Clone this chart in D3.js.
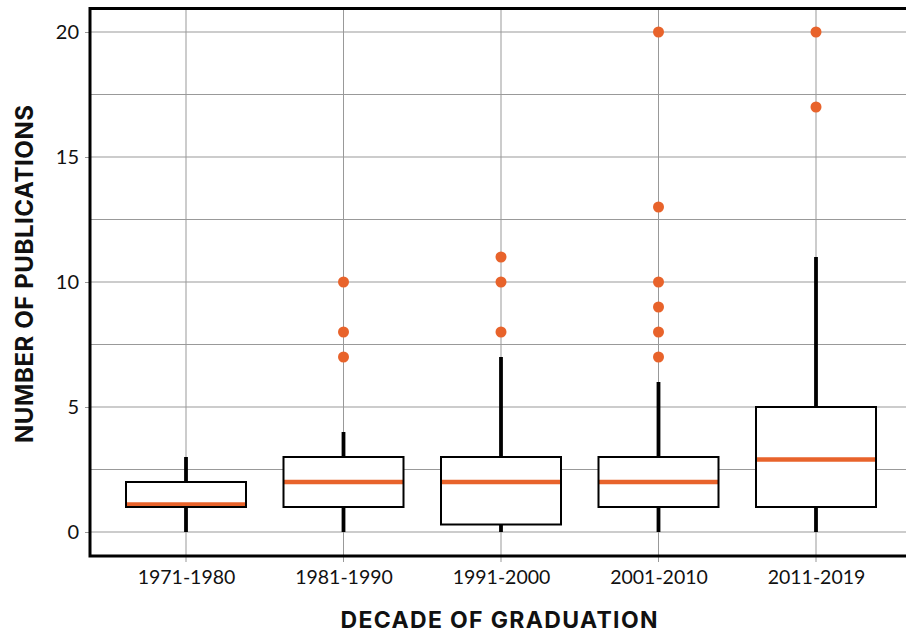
<!DOCTYPE html>
<html>
<head>
<meta charset="utf-8">
<script src="https://cdn.jsdelivr.net/npm/d3@7"></script>
<style>
  html, body { margin: 0; padding: 0; background: #fff; }
  svg { display: block; }
  text { font-family: Lato, "Open Sans", sans-serif; fill: #111; }
</style>
</head>
<body>
<svg id="chart" width="906" height="634"></svg>
<script>
// ---- data ----
const categories = ["1971-1980", "1981-1990", "1991-2000", "2001-2010", "2011-2019"];
const whiskerLow  = [0, 0, 0, 0, 0];
const q1          = [1, 1, 0.3, 1, 1];
const median      = [1.1, 2, 2, 2, 2.9];
const q3          = [2, 3, 3, 3, 5];
const whiskerHigh = [3, 4, 7, 6, 11];
const outliers    = [[], [7, 8, 10], [8, 10, 11], [7, 8, 9, 10, 13, 20], [17, 20]];
const yTicks      = [0, 5, 10, 15, 20];
const yGrid       = [0, 2.5, 5, 7.5, 10, 12.5, 15, 17.5, 20];
const xTitle = "DECADE OF GRADUATION";
const yTitle = "NUMBER OF PUBLICATIONS";

// ---- layout ----
const plot = { left: 90, right: 906, top: 8.5, bottom: 556 };
const orange = "#e8632b";
const gridColor = "#999999";

const svg = d3.select("#chart");

const x = d3.scalePoint().domain(categories).range([186, 816]);
const y = d3.scaleLinear().domain([0, 20]).range([532, 32]);
const boxW = 120;

const rows = categories.map((c, i) => ({
  cat: c, lo: whiskerLow[i], q1: q1[i], med: median[i], q3: q3[i], hi: whiskerHigh[i], out: outliers[i]
}));

// gridlines
svg.append("g").selectAll("line").data(yGrid).join("line")
  .attr("x1", plot.left).attr("x2", plot.right)
  .attr("y1", d => y(d)).attr("y2", d => y(d))
  .attr("stroke", gridColor).attr("stroke-width", 1);
svg.append("g").selectAll("line").data(categories).join("line")
  .attr("x1", d => x(d)).attr("x2", d => x(d))
  .attr("y1", plot.top).attr("y2", plot.bottom + 6)
  .attr("stroke", gridColor).attr("stroke-width", 1);

// y axis ticks and labels
const yAxis = d3.axisLeft(y).tickValues(yTicks).tickSize(5).tickPadding(6).tickFormat(d3.format("d"));
const gy = svg.append("g").attr("transform", `translate(${plot.left},0)`).call(yAxis);
gy.select(".domain").remove();
gy.selectAll(".tick line").attr("stroke", gridColor);
gy.selectAll(".tick text").attr("font-size", 20).attr("fill", "#111")
  .style("font-family", "Lato, 'Open Sans', sans-serif");

// x axis labels
const xAxis = d3.axisBottom(x).tickSize(0).tickPadding(14);
const gx = svg.append("g").attr("transform", `translate(0,${plot.bottom})`).call(xAxis);
gx.select(".domain").remove();
gx.selectAll(".tick text").attr("font-size", 19.5).attr("fill", "#111")
  .style("font-family", "Lato, 'Open Sans', sans-serif");

// whiskers
const marks = svg.append("g");
marks.selectAll("line.whisker").data(rows).join("line")
  .attr("class", "whisker")
  .attr("x1", d => x(d.cat)).attr("x2", d => x(d.cat))
  .attr("y1", d => y(d.lo)).attr("y2", d => y(d.hi))
  .attr("stroke", "#000").attr("stroke-width", 3.8);

// box fill
marks.selectAll("rect.boxfill").data(rows).join("rect")
  .attr("class", "boxfill")
  .attr("x", d => x(d.cat) - boxW / 2).attr("width", boxW)
  .attr("y", d => y(d.q3)).attr("height", d => y(d.q1) - y(d.q3))
  .attr("fill", "#fff");

// median
marks.selectAll("line.median").data(rows).join("line")
  .attr("class", "median")
  .attr("x1", d => x(d.cat) - boxW / 2).attr("x2", d => x(d.cat) + boxW / 2)
  .attr("y1", d => y(d.med)).attr("y2", d => y(d.med))
  .attr("stroke", orange).attr("stroke-width", 4.5);

// box outline
marks.selectAll("rect.boxline").data(rows).join("rect")
  .attr("class", "boxline")
  .attr("x", d => x(d.cat) - boxW / 2).attr("width", boxW)
  .attr("y", d => y(d.q3)).attr("height", d => y(d.q1) - y(d.q3))
  .attr("fill", "none").attr("stroke", "#000").attr("stroke-width", 2);

// outliers
const outPts = rows.flatMap(d => d.out.map(v => ({ cat: d.cat, v })));
marks.selectAll("circle").data(outPts).join("circle")
  .attr("cx", d => x(d.cat)).attr("cy", d => y(d.v)).attr("r", 5.5)
  .attr("fill", orange);

// frame (top, left, bottom)
const frame = svg.append("g").attr("stroke", "#000").attr("stroke-width", 3).attr("fill", "none");
frame.append("path")
  .attr("d", `M${plot.right},${plot.top} H${plot.left} V${plot.bottom} H${plot.right}`);

// axis titles
svg.append("text")
  .attr("x", 499).attr("y", 628)
  .attr("text-anchor", "middle")
  .attr("font-size", 23).attr("font-weight", 700)
  .style("font-family", "Inter, 'Open Sans', sans-serif")
  .attr("textLength", 317).attr("lengthAdjust", "spacing")
  .text(xTitle);

svg.append("text")
  .attr("transform", "translate(33,274) rotate(-90)")
  .attr("text-anchor", "middle")
  .attr("font-size", 24).attr("font-weight", 700)
  .style("font-family", "Inter, 'Open Sans', sans-serif")
  .attr("textLength", 338).attr("lengthAdjust", "spacing")
  .text(yTitle);
</script>
</body>
</html>
